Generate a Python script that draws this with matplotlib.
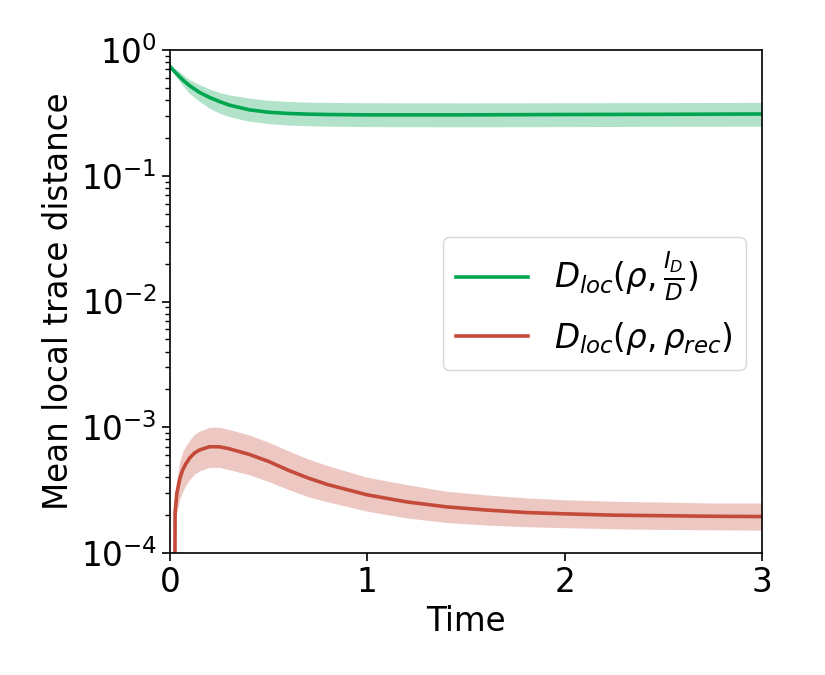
import matplotlib
matplotlib.use("Agg")
import matplotlib.pyplot as plt

# ---- data ----
t_green = [0.0, 0.025, 0.05, 0.075, 0.1, 0.15, 0.2, 0.25, 0.3, 0.4, 0.5, 0.6, 0.7, 0.8,
           1.0, 1.5, 2.0, 2.5, 3.0]
green_mean = [0.74, 0.67, 0.61, 0.56, 0.52, 0.46, 0.42, 0.39, 0.365, 0.335, 0.32, 0.313,
              0.309, 0.307, 0.305, 0.305, 0.307, 0.308, 0.31]
green_upper = [0.75, 0.71, 0.67, 0.62, 0.58, 0.53, 0.49, 0.46, 0.44, 0.415, 0.398, 0.39,
               0.385, 0.383, 0.381, 0.38, 0.381, 0.382, 0.383]
green_lower = [0.73, 0.63, 0.56, 0.50, 0.45, 0.39, 0.345, 0.315, 0.295, 0.272, 0.26, 0.253,
               0.25, 0.248, 0.246, 0.245, 0.246, 0.247, 0.248]

t_red = [0.024, 0.026, 0.035, 0.05, 0.065, 0.08, 0.1, 0.125, 0.15, 0.2, 0.25, 0.3, 0.4,
         0.5, 0.6, 0.7, 0.8, 1.0, 1.2, 1.4, 1.6, 1.8, 2.0, 2.25, 2.5, 2.75, 3.0]
red_mean = [1e-5, 2.1e-4, 3.0e-4, 3.9e-4, 4.6e-4, 5.1e-4, 5.7e-4, 6.25e-4, 6.6e-4, 7.0e-4,
            7.0e-4, 6.75e-4, 6.1e-4, 5.35e-4, 4.55e-4, 3.95e-4, 3.5e-4, 2.9e-4, 2.55e-4,
            2.33e-4, 2.2e-4, 2.1e-4, 2.05e-4, 2.0e-4, 1.98e-4, 1.96e-4, 1.95e-4]
red_upper = [1e-5, 2.4e-4, 3.9e-4, 5.4e-4, 6.4e-4, 7.1e-4, 7.9e-4, 8.8e-4, 9.3e-4, 1.0e-3,
             1.0e-3, 9.6e-4, 8.7e-4, 7.6e-4, 6.5e-4, 5.6e-4, 4.95e-4, 4.0e-4, 3.5e-4,
             3.1e-4, 2.9e-4, 2.75e-4, 2.65e-4, 2.58e-4, 2.54e-4, 2.5e-4, 2.5e-4]
red_lower = [1e-6, 1.8e-4, 2.1e-4, 2.7e-4, 3.1e-4, 3.45e-4, 3.85e-4, 4.25e-4, 4.5e-4, 4.8e-4,
             4.8e-4, 4.6e-4, 4.2e-4, 3.7e-4, 3.2e-4, 2.8e-4, 2.55e-4, 2.15e-4, 1.9e-4,
             1.75e-4, 1.67e-4, 1.62e-4, 1.59e-4, 1.56e-4, 1.54e-4, 1.53e-4, 1.52e-4]

labels = [r'$D_{loc}(\rho, \frac{I_D}{D})$', r'$D_{loc}(\rho, \rho_{rec})$']
xticks = [0, 1, 2, 3]

green = '#00A550'
red = '#C44A3A'

plt.rcParams['font.family'] = ['DejaVu Sans']
plt.rcParams['mathtext.fontset'] = 'dejavusans'

fig = plt.figure(figsize=(8.25, 6.75), dpi=100)
ax = fig.add_axes([0.206, 0.1807, 0.7176, 0.7452])

ax.fill_between(t_green, green_lower, green_upper, color=green, alpha=0.3, lw=0)
ax.plot(t_green, green_mean, color=green, lw=2.6, label=labels[0])
ax.fill_between(t_red, red_lower, red_upper, color=red, alpha=0.3, lw=0)
ax.plot(t_red, red_mean, color=red, lw=2.6, label=labels[1])

ax.set_yscale('log')
ax.set_ylim(1e-4, 1e0)
ax.set_xlim(0, 3)
ax.set_xticks(xticks)
ax.tick_params(axis='both', which='major', labelsize=23.5, length=6, width=1.2)
ax.tick_params(axis='both', which='minor', length=3.5, width=1.0)
for s in ax.spines.values():
    s.set_linewidth(1.2)

ax.set_xlabel('Time', fontsize=23.5, labelpad=4)
ax.set_ylabel('Mean local trace distance', fontsize=23.5)

leg = ax.legend(loc='upper left', bbox_to_anchor=(0.461, 0.628), borderaxespad=0,
                fontsize=23.5, handlelength=2.2, frameon=True)
leg.get_frame().set_alpha(0.8)

fig.savefig('out.png', dpi=100)
